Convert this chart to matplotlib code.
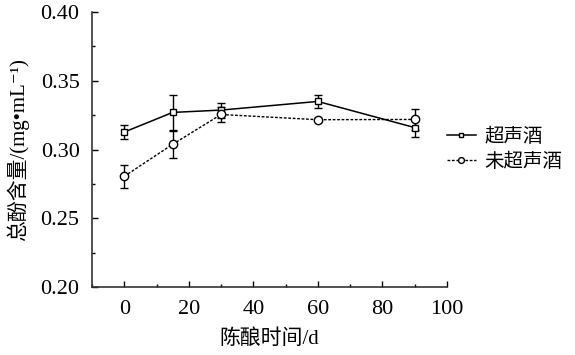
import matplotlib
matplotlib.use("Agg")
import matplotlib.pyplot as plt
from matplotlib.ticker import MultipleLocator

plt.rcParams['font.family'] = ['Liberation Serif', 'Noto Sans CJK SC', 'DejaVu Sans']

days = [0, 15, 30, 60, 90]
us = [0.3127, 0.3270, 0.3287, 0.3350, 0.3160]
us_err = [0.0050, 0.0130, 0.0055, 0.0045, 0.0070]
nous = [0.2805, 0.3038, 0.3255, 0.3217, 0.3219]
nous_err = [0.0085, 0.0100, 0.0055, 0.0012, 0.0078]

fig = plt.figure(figsize=(5.75, 3.55), dpi=100)
ax = fig.add_axes([0.16, 0.1915, 0.617, 0.7745])

ax.errorbar(days, us, yerr=us_err, color="black", lw=1.1, marker="s", ms=5,
            mfc="white", mec="black", mew=1, capsize=3, elinewidth=1,
            label="超声酒")
ax.errorbar(days, nous, yerr=nous_err, color="black", lw=1.0, ls=(0, (2, 1.2)),
            marker="o", ms=6, mfc="white", mec="black", mew=1, capsize=3,
            elinewidth=1, label="未超声酒")

ax.set_xlim(-10, 100)
ax.set_ylim(0.20, 0.40)
ax.xaxis.set_major_locator(MultipleLocator(20))
ax.xaxis.set_minor_locator(MultipleLocator(10))
ax.yaxis.set_major_locator(MultipleLocator(0.05))
ax.yaxis.set_minor_locator(MultipleLocator(0.025))
ax.yaxis.set_major_formatter(plt.FormatStrFormatter("%.2f"))
ax.spines["top"].set_visible(False)
ax.spines["right"].set_visible(False)
for s in ["left", "bottom"]:
    ax.spines[s].set_linewidth(1.2)
    ax.spines[s].set_color("#333333")
ax.tick_params(which="both", direction="in", labelsize=16, width=1)
ax.tick_params(which="major", length=4, pad=9)
ax.tick_params(which="minor", length=2)

ax.set_xlabel("陈酿时间/d", fontsize=15, labelpad=8)
ax.set_ylabel("总酚含量/(mg•mL⁻¹)", fontsize=15, labelpad=8)

handles, labels = ax.get_legend_handles_labels()
handles = [h[0] for h in handles]
ax.legend(handles, labels, loc="center left", bbox_to_anchor=(1.0, 0.50),
          frameon=False, fontsize=14, handlelength=1.5, handletextpad=0.45,
          labelspacing=0.35, markerscale=0.7, borderpad=0, borderaxespad=0)

fig.savefig("out.png", dpi=100)
